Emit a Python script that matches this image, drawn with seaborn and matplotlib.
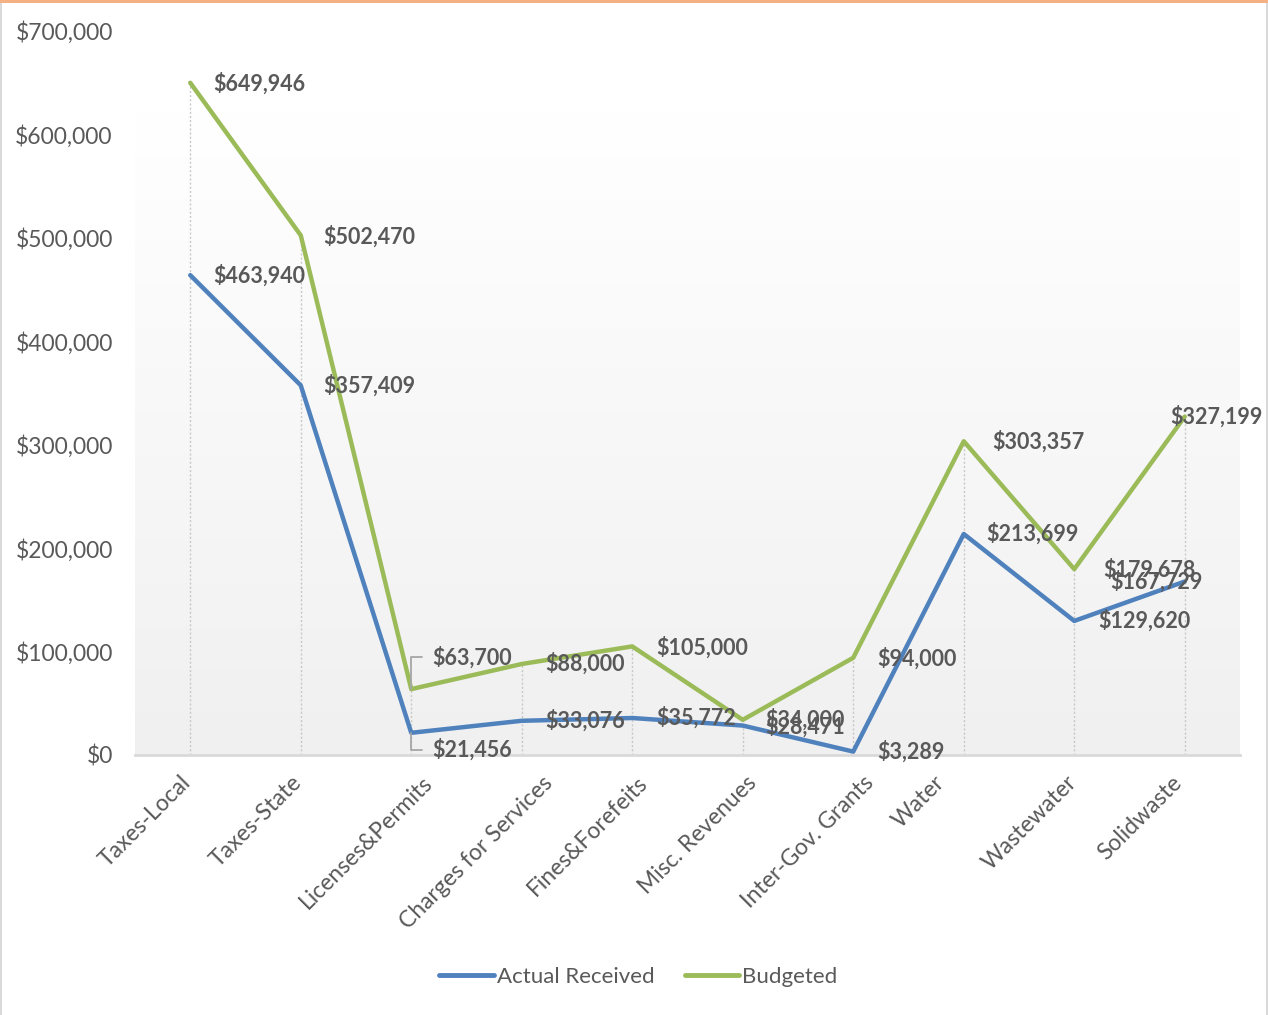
import numpy as np
import pandas as pd
import matplotlib
matplotlib.use("Agg")
import matplotlib.pyplot as plt
import seaborn as sns
from matplotlib.patches import Rectangle
from matplotlib.transforms import ScaledTranslation

categories = ["Taxes-Local", "Taxes-State", "Licenses&Permits", "Charges for Services",
              "Fines&Forefeits", "Misc. Revenues", "Inter-Gov. Grants", "Water",
              "Wastewater", "Solidwaste"]
actual = [463940, 357409, 21456, 33076, 35772, 28471, 3289, 213699, 129620, 167729]
budgeted = [649946, 502470, 63700, 88000, 105000, 34000, 94000, 303357, 179678, 327199]
series_names = ["Actual Received", "Budgeted"]
yticks = [0, 100000, 200000, 300000, 400000, 500000, 600000, 700000]

# label offsets in pixels (styling)
act_off = [(23, 0), (23, 0), (21, -17), (24, 0), (24, 0), (23, -1), (24, 0), (23, 0), (24, 0), (-74, 0)]
bud_off = [(23, -1), (23, -1), (21, 32), (24, 0), (24, -1), (23, 0), (24, -1), (29, 0), (29, 0), (-14, 0)]

BLUE = "#4F81BD"
GREEN = "#9BBB59"
TXT = "#595959"

sns.set_theme(style="white")
plt.rcParams["font.family"] = ["Lato", "DejaVu Sans"]

W, H = 1268, 1015
fig = plt.figure(figsize=(W / 100, H / 100), dpi=100)
ax = fig.add_axes([135 / W, (H - 755) / H, (1240 - 135) / W, (755 - 31) / H])

x = np.arange(len(categories))
df = pd.DataFrame({
    "x": np.concatenate([x, x]),
    "value": actual + budgeted,
    "series": [series_names[0]] * len(x) + [series_names[1]] * len(x),
})

# gradient background of plot area
grad = np.linspace(0, 1, 256).reshape(-1, 1)
top_c = np.array([1.0, 1.0, 1.0])
bot_c = np.array([0xf0, 0xf0, 0xf0]) / 255
img = top_c[None, None, :] * (1 - grad[:, :, None]) + bot_c[None, None, :] * grad[:, :, None]
ax.imshow(img, extent=(-0.5, len(x) - 0.5, 0, 621000), aspect="auto", zorder=0, origin="upper")

# drop lines
tops = np.maximum(actual, budgeted)
ax.vlines(x, 0, tops, colors="#c8c8c8", linestyles=(0, (1.5, 1.5)), linewidth=1.0, zorder=1)

sns.lineplot(data=df, x="x", y="value", hue="series", palette=[BLUE, GREEN],
             linewidth=3.2, sort=False, ax=ax, zorder=3, legend=True)

ax.set_xlim(-0.5, len(x) - 0.5)
ax.set_ylim(0, 700000)
ax.set_yticks(yticks)
ax.set_yticklabels([f"${v:,.0f}" for v in yticks], color=TXT, fontsize=16.5)
ax.set_xticks(x)
ax.set_xticklabels([""] * len(x))
# rotated category labels, centred horizontally 45px left of each tick, top ~17px below axis
lab_tr = ax.get_xaxis_transform() + ScaledTranslation(-45 / 100, -17 / 100, fig.dpi_scale_trans)
for i, c in enumerate(categories):
    ax.text(i, 0, c, transform=lab_tr, rotation=45, ha="center", va="top",
            rotation_mode="default", color=TXT, fontsize=16.5)
ax.tick_params(axis="y", length=0, pad=16)
ax.tick_params(axis="x", length=0)
ax.set_xlabel("")
ax.set_ylabel("")
ax.patch.set_alpha(0)
for s in ["left", "right", "top"]:
    ax.spines[s].set_visible(False)
ax.spines["bottom"].set_color("#d9d9d9")
ax.spines["bottom"].set_linewidth(2)
ax.spines["bottom"].set_zorder(2)

def label(vals, offs):
    for i, (v, (dx, dy)) in enumerate(zip(vals, offs)):
        ax.annotate(f"${v:,.0f}", xy=(i, v), xytext=(dx, dy), textcoords="offset pixels",
                    ha="left", va="center", fontsize=15.5, fontweight="bold", color=TXT, zorder=5)
        if abs(dy) > 10:
            ax.annotate("", xy=(i, v), xytext=(11, dy), textcoords="offset pixels",
                        arrowprops=dict(arrowstyle="-", color="#a6a6a6", lw=1.3,
                                        connectionstyle="angle,angleA=0,angleB=90,rad=0",
                                        shrinkA=0, shrinkB=0), zorder=4)

label(actual, act_off)
label(budgeted, bud_off)

leg = ax.legend(loc="center", bbox_to_anchor=(0.5 + 4.5 / W, (H - 977) / H), bbox_transform=fig.transFigure,
                ncol=2, frameon=False, fontsize=16, handlelength=2.45, handletextpad=0.15,
                columnspacing=1.35)
for t in leg.get_texts():
    t.set_color(TXT)
for l in leg.get_lines():
    l.set_linewidth(3.5)
    l.set_solid_capstyle("round")

# figure border
fig.patches.append(Rectangle((0, 1 - 3 / H), 1, 3 / H, transform=fig.transFigure,
                             facecolor="#F4B183", edgecolor="none", zorder=10))
fig.patches.append(Rectangle((0, 0), 2 / W, 1 - 3 / H, transform=fig.transFigure,
                             facecolor="#d9d9d9", edgecolor="none", zorder=10))
fig.patches.append(Rectangle((1 - 2 / W, 0), 2 / W, 1 - 3 / H, transform=fig.transFigure,
                             facecolor="#d9d9d9", edgecolor="none", zorder=10))

fig.savefig("out.png", dpi=100)
